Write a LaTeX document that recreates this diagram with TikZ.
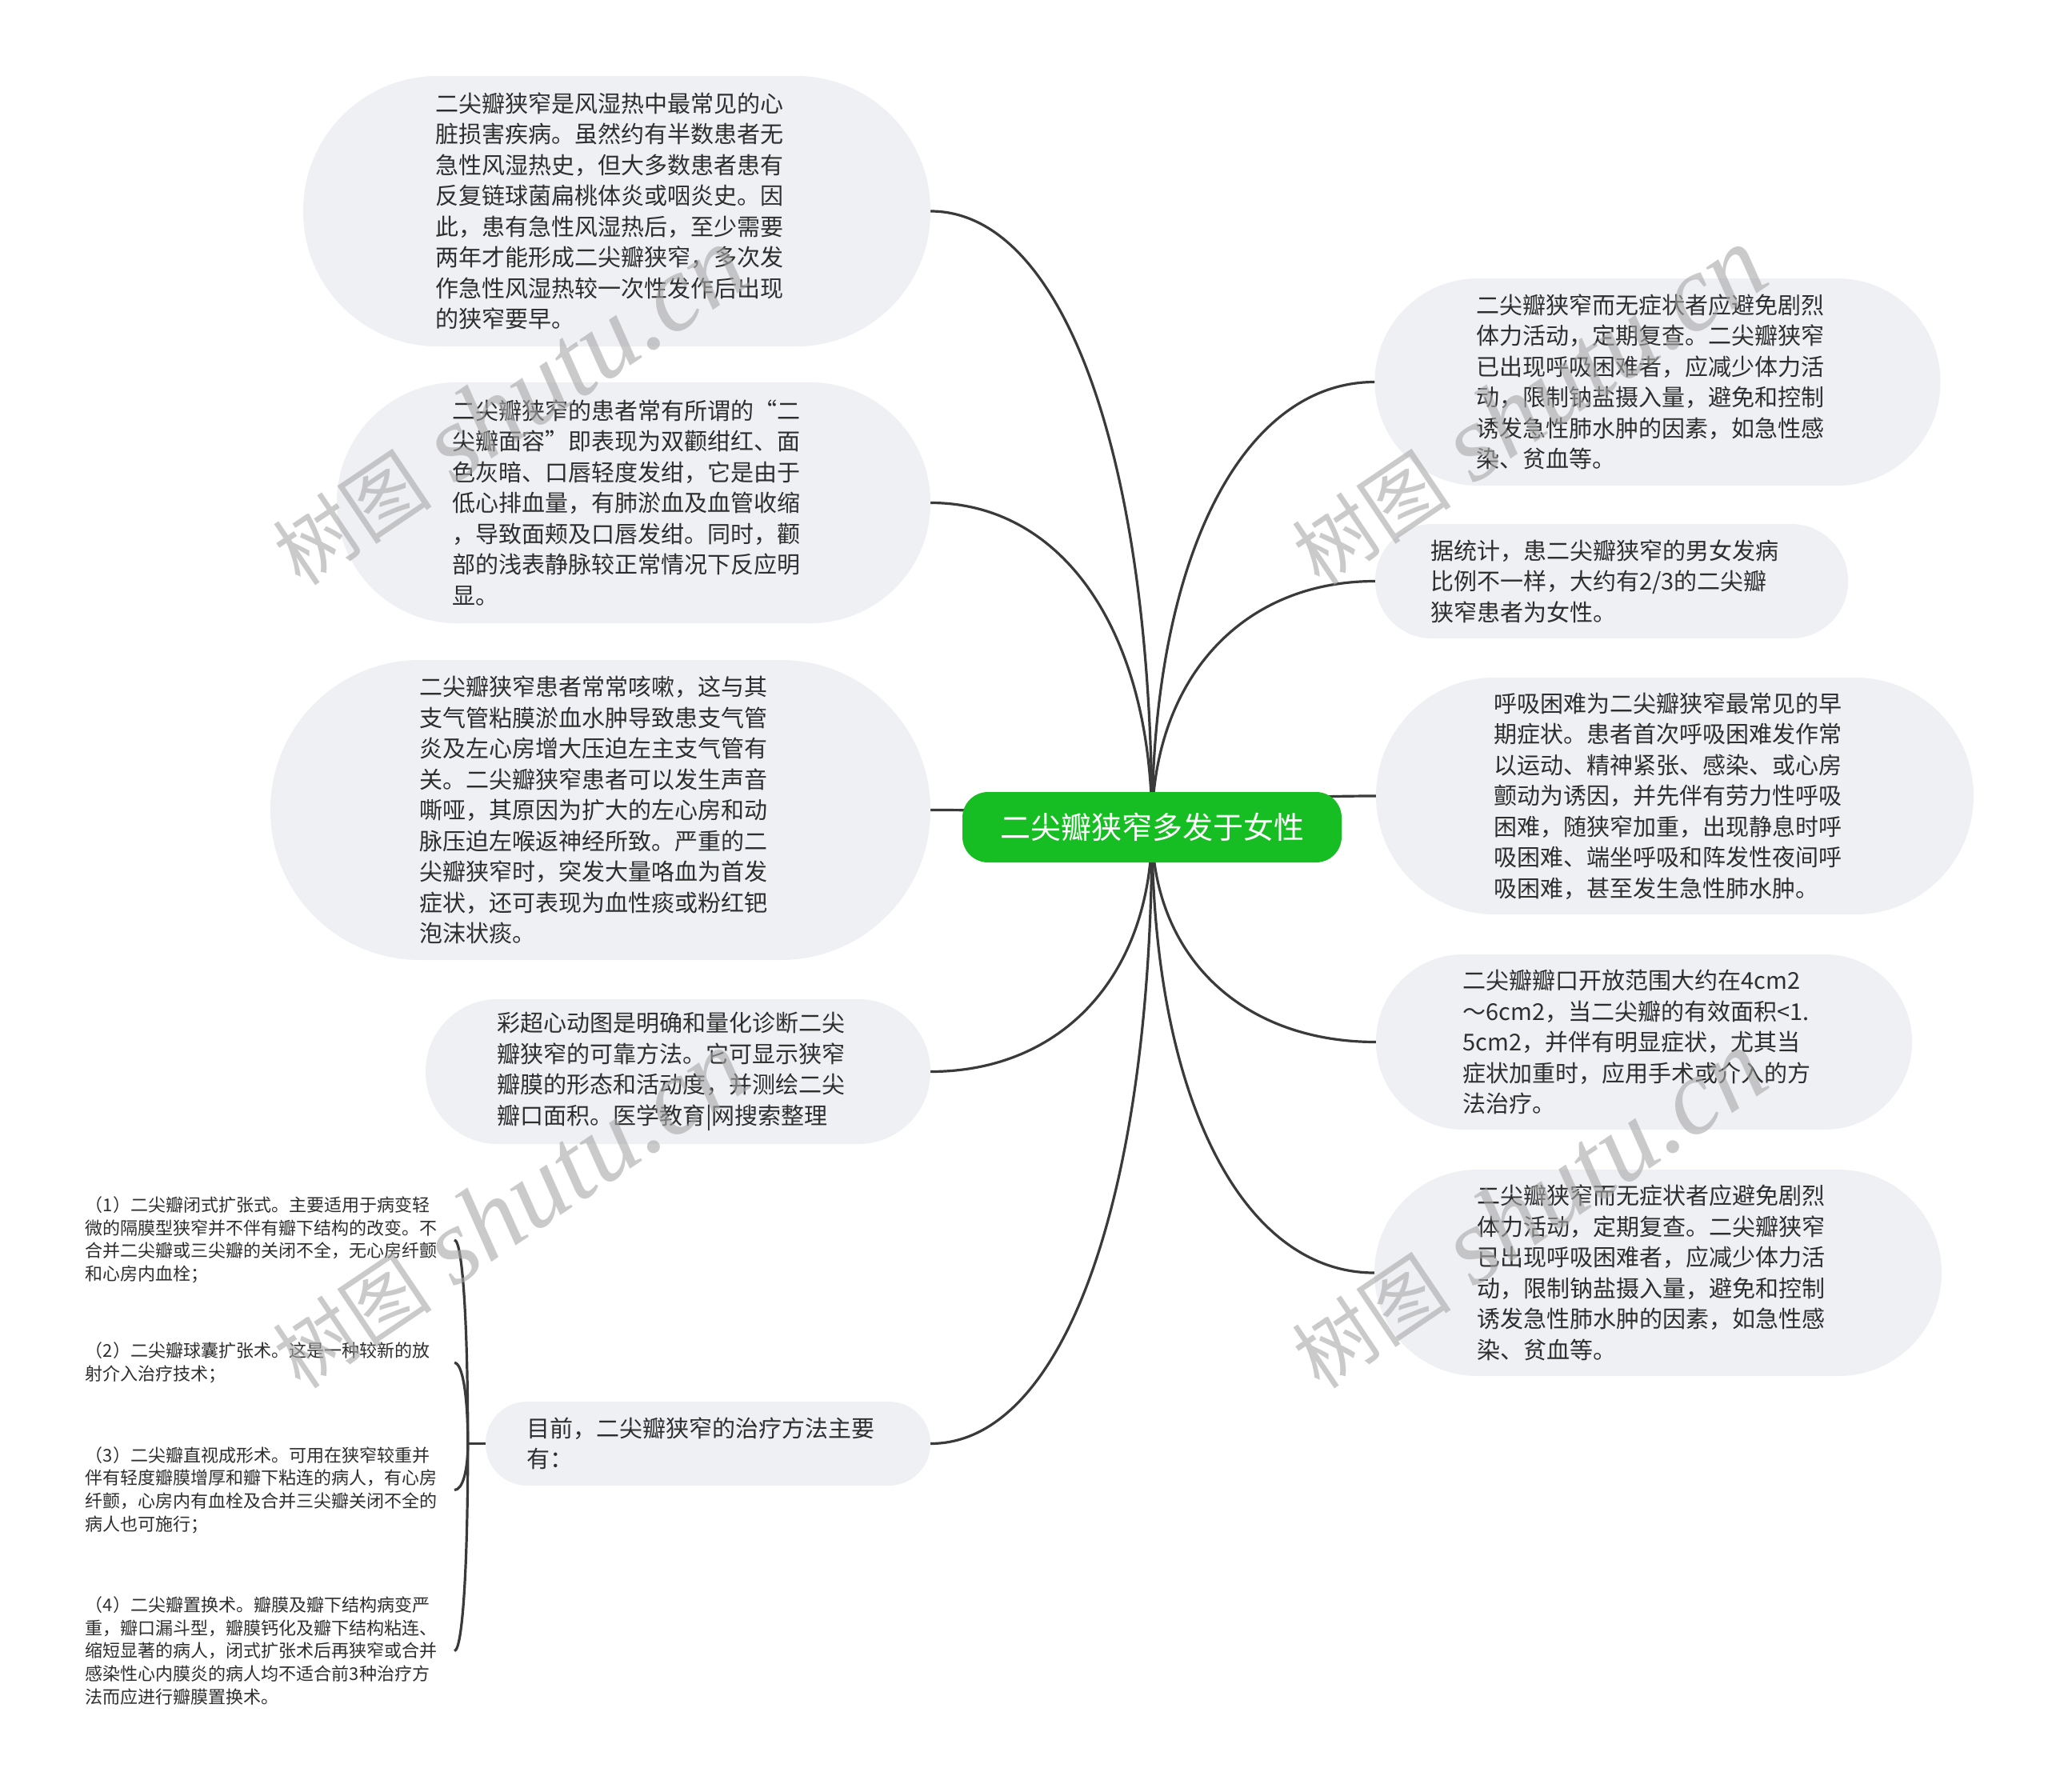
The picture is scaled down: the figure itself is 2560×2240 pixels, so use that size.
\documentclass[tikz,border=0pt]{standalone}
\usepackage{fontspec}
\setmainfont{Noto Sans CJK SC}
\newfontfamily\wmlatin{Liberation Serif}
\usetikzlibrary{calc,backgrounds}
\definecolor{boxfill}{HTML}{EEF0F3}
\definecolor{txt}{HTML}{2E2E2E}
\definecolor{lnk}{HTML}{3A3A3A}
\definecolor{mint}{HTML}{17BE23}
\definecolor{wmc}{HTML}{A8A8A8}
\newcommand\mmlink[2]{\draw[link] (#1) .. controls ($(#1)!0.6!(#1 |- #2)$) and ($(#2)!0.6!(#1 |- #2)$) .. (#2);}
\begin{document}
\begin{tikzpicture}[x=1pt,y=-1pt,
  link/.style={draw=lnk, line width=3.2pt},
  box/.style={fill=boxfill, text=txt, align=left, inner sep=0pt, text width=453pt,
    font=\fontsize{29pt}{38.5pt}\selectfont},
  childtext/.style={text=txt, align=left, inner sep=0pt, text width=461pt, anchor=east,
    font=\fontsize{22pt}{28.6pt}\selectfont},
  cnode/.style={fill=mint, text=white, inner sep=0pt, minimum width=474pt, minimum height=88pt,
    rounded corners=32pt, font=\fontsize{38pt}{40pt}\selectfont},
  wmark/.style={rotate=34, text=wmc, opacity=0.6, inner sep=0pt,
    font=\fontsize{100pt}{100pt}\selectfont}
]
\useasboundingbox (0,0) rectangle (2560,2240);

% left boxes
\node[box, minimum width=784pt, minimum height=338pt, rounded corners=168pt] (L1) at (771,264)
{二尖瓣狭窄是风湿热中最常见的心\\脏损害疾病。虽然约有半数患者无\\急性风湿热史，但大多数患者患有\\反复链球菌扁桃体炎或咽炎史。因\\此，患有急性风湿热后，至少需要\\两年才能形成二尖瓣狭窄，多次发\\作急性风湿热较一次性发作后出现\\的狭窄要早。};
\node[box, minimum width=742pt, minimum height=301pt, rounded corners=150pt] (L2) at (792,628.5)
{二尖瓣狭窄的患者常有所谓的“二\\尖瓣面容”即表现为双颧绀红、面\\色灰暗、口唇轻度发绀，它是由于\\低心排血量，有肺淤血及血管收缩\\，导致面颊及口唇发绀。同时，颧\\部的浅表静脉较正常情况下反应明\\显。};
\node[box, minimum width=825pt, minimum height=375pt, rounded corners=187pt] (L3) at (750.5,1012.5)
{二尖瓣狭窄患者常常咳嗽，这与其\\支气管粘膜淤血水肿导致患支气管\\炎及左心房增大压迫左主支气管有\\关。二尖瓣狭窄患者可以发生声音\\嘶哑，其原因为扩大的左心房和动\\脉压迫左喉返神经所致。严重的二\\尖瓣狭窄时，突发大量咯血为首发\\症状，还可表现为血性痰或粉红钯\\泡沫状痰。};
\node[box, minimum width=631pt, minimum height=181pt, rounded corners=90pt] (L4) at (847.5,1339.5)
{彩超心动图是明确和量化诊断二尖\\瓣狭窄的可靠方法。它可显示狭窄\\瓣膜的形态和活动度，并测绘二尖\\瓣口面积。医学教育|网搜索整理};
\node[box, minimum width=556pt, minimum height=105pt, rounded corners=52pt] (L5) at (885,1804.5)
{目前，二尖瓣狭窄的治疗方法主要\\有：};

% right boxes
\node[box, minimum width=707pt, minimum height=259pt, rounded corners=129pt] (R1) at (2072,477.5)
{二尖瓣狭窄而无症状者应避免剧烈\\体力活动，定期复查。二尖瓣狭窄\\已出现呼吸困难者，应减少体力活\\动，限制钠盐摄入量，避免和控制\\诱发急性肺水肿的因素，如急性感\\染、贫血等。};
\node[box, minimum width=591pt, minimum height=143pt, rounded corners=71pt] (R2) at (2014.5,726.5)
{据统计，患二尖瓣狭窄的男女发病\\比例不一样，大约有2/3的二尖瓣\\狭窄患者为女性。};
\node[box, minimum width=747pt, minimum height=296pt, rounded corners=148pt] (R3) at (2093.5,995)
{呼吸困难为二尖瓣狭窄最常见的早\\期症状。患者首次呼吸困难发作常\\以运动、精神紧张、感染、或心房\\颤动为诱因，并先伴有劳力性呼吸\\困难，随狭窄加重，出现静息时呼\\吸困难、端坐呼吸和阵发性夜间呼\\吸困难，甚至发生急性肺水肿。};
\node[box, minimum width=670pt, minimum height=219pt, rounded corners=109pt] (R4) at (2055,1302.5)
{二尖瓣瓣口开放范围大约在4cm2\\～6cm2，当二尖瓣的有效面积<1.\\5cm2，并伴有明显症状，尤其当\\症状加重时，应用手术或介入的方\\法治疗。};
\node[box, minimum width=709pt, minimum height=258pt, rounded corners=129pt] (R5) at (2072.5,1591)
{二尖瓣狭窄而无症状者应避免剧烈\\体力活动，定期复查。二尖瓣狭窄\\已出现呼吸困难者，应减少体力活\\动，限制钠盐摄入量，避免和控制\\诱发急性肺水肿的因素，如急性感\\染、贫血等。};

% treatment children
\node[childtext] (C1) at (568,1550)
{（1）二尖瓣闭式扩张式。主要适用于病变轻\\微的隔膜型狭窄并不伴有瓣下结构的改变。不\\合并二尖瓣或三尖瓣的关闭不全，无心房纤颤\\和心房内血栓；};
\node[childtext] (C2) at (568,1703.5)
{（2）二尖瓣球囊扩张术。这是一种较新的放\\射介入治疗技术；};
\node[childtext] (C3) at (568,1862.5)
{（3）二尖瓣直视成形术。可用在狭窄较重并\\伴有轻度瓣膜增厚和瓣下粘连的病人，有心房\\纤颤，心房内有血栓及合并三尖瓣关闭不全的\\病人也可施行；};
\node[childtext] (C4) at (568,2063.5)
{（4）二尖瓣置换术。瓣膜及瓣下结构病变严\\重，瓣口漏斗型，瓣膜钙化及瓣下结构粘连、\\缩短显著的病人，闭式扩张术后再狭窄或合并\\感染性心内膜炎的病人均不适合前3种治疗方\\法而应进行瓣膜置换术。};

% central topic
\node[cnode] (c) at (1440,1034) {二尖瓣狭窄多发于女性};
\coordinate (tj) at ($(L5.west)+(-22,0)$);

\begin{scope}[on background layer]
  \fill[white] (0,0) rectangle (2560,2240);
  \mmlink{c.center}{L1.east}
  \mmlink{c.center}{L2.east}
  \mmlink{c.center}{L3.east}
  \mmlink{c.center}{L4.east}
  \mmlink{c.center}{L5.east}
  \mmlink{c.center}{R1.west}
  \mmlink{c.center}{R2.west}
  \mmlink{c.center}{R3.west}
  \mmlink{c.center}{R4.west}
  \mmlink{c.center}{R5.west}
  \draw[link] (L5.west) -- (tj);
  \mmlink{tj}{C1.east}
  \mmlink{tj}{C2.east}
  \mmlink{tj}{C3.east}
  \mmlink{tj}{C4.east}
\end{scope}

% watermarks
\node[wmark] (w1) at (636,508) {树图\hspace{0.3em}{\wmlatin\itshape\fontsize{135pt}{135pt}\selectfont shutu.cn}};
\node[wmark] (w2) at (1910,508) {树图\hspace{0.3em}{\wmlatin\itshape\fontsize{135pt}{135pt}\selectfont shutu.cn}};
\node[wmark] (w3) at (636,1512) {树图\hspace{0.3em}{\wmlatin\itshape\fontsize{135pt}{135pt}\selectfont shutu.cn}};
\node[wmark] (w4) at (1910,1512) {树图\hspace{0.3em}{\wmlatin\itshape\fontsize{135pt}{135pt}\selectfont shutu.cn}};
\end{tikzpicture}
\end{document}
